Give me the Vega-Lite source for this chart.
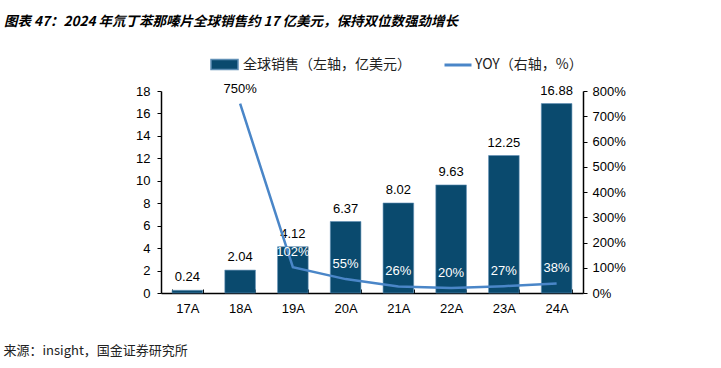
{
  "$schema": "https://vega.github.io/schema/vega-lite/v6.json",
  "width": 422,
  "height": 202,
  "autosize": "none",
  "padding": {"left": 161, "top": 91, "right": 138, "bottom": 75},
  "background": "white",
  "config": {
    "view": {"stroke": null},
    "font": "Liberation Sans",
    "axis": {"labelFont": "Liberation Sans", "labelFontSize": 13, "labelColor": "#000", "domainColor": "#000", "tickColor": "#000", "grid": false, "labelOverlap": false}
  },
  "title": {
    "text": "图表 47：2024 年氘丁苯那嗪片全球销售约 17 亿美元，保持双位数强劲增长",
    "anchor": "start",
    "frame": "group",
    "dx": -157,
    "offset": 22,
    "font": "Noto Sans CJK SC",
    "fontSize": 13.5,
    "fontWeight": "bold",
    "fontStyle": "italic",
    "color": "#000"
  },
  "data": {
    "values": [
      {"year": "17A", "sales": 0.24, "yoy": null},
      {"year": "18A", "sales": 2.04, "yoy": 750},
      {"year": "19A", "sales": 4.12, "yoy": 102},
      {"year": "20A", "sales": 6.37, "yoy": 55},
      {"year": "21A", "sales": 8.02, "yoy": 26},
      {"year": "22A", "sales": 9.63, "yoy": 20},
      {"year": "23A", "sales": 12.25, "yoy": 27},
      {"year": "24A", "sales": 16.88, "yoy": 38}
    ]
  },
  "encoding": {
    "x": {
      "field": "year",
      "type": "nominal",
      "sort": null,
      "scale": {"paddingInner": 0.42, "paddingOuter": 0.21},
      "axis": {
        "labelAngle": 0,
        "labelPadding": 13,
        "tickBand": "extent",
        "tickSize": -4,
        "domainWidth": 1.5,
        "title": "来源：insight，国金证券研究所",
        "titleFont": "Noto Sans CJK SC",
        "titleFontSize": 13,
        "titleFontWeight": "normal",
        "titleColor": "#222",
        "titleAnchor": "start",
        "titleAlign": "left",
        "titleBaseline": "middle",
        "titleX": -158,
        "titleY": 57
      }
    }
  },
  "layer": [
    {
      "encoding": {
        "y": {
          "field": "sales",
          "type": "quantitative",
          "scale": {"domain": [0, 18]},
          "axis": {"values": [0, 2, 4, 6, 8, 10, 12, 14, 16, 18], "title": null, "tickSize": 4, "labelPadding": 7, "domainWidth": 1.5}
        }
      },
      "layer": [
        {
          "mark": {"type": "bar", "stroke": "#5f8fb5", "strokeWidth": 0.6},
          "encoding": {
            "fill": {
              "datum": "全球销售（左轴，亿美元）",
              "type": "nominal",
              "scale": {"range": ["#0a4a6e"]},
              "legend": {
                "orient": "none",
                "legendX": 49,
                "legendY": -41,
                "title": null,
                "symbolType": "M-1,-0.37H1V0.37H-1Z",
                "symbolSize": 729,
                "labelFont": "Noto Sans CJK SC",
                "labelFontSize": 14,
                "labelColor": "#222",
                "labelOffset": 4,
                "labelLimit": 400
              }
            }
          }
        },
        {
          "mark": {"type": "text", "baseline": "bottom", "dy": -6, "fontSize": 13, "color": "#000"},
          "encoding": {
            "text": {"field": "sales", "type": "quantitative", "format": ".2f"}
          }
        }
      ]
    },
    {
      "encoding": {
        "y": {
          "field": "yoy",
          "type": "quantitative",
          "scale": {"domain": [0, 800]},
          "axis": {"orient": "right", "values": [0, 100, 200, 300, 400, 500, 600, 700, 800], "labelExpr": "datum.value + '%'", "title": null, "tickSize": 4, "labelPadding": 5, "domainWidth": 1.5}
        }
      },
      "layer": [
        {
          "mark": {"type": "line", "strokeWidth": 2.5, "interpolate": "linear"},
          "encoding": {
            "stroke": {
              "datum": "YOY（右轴，%）",
              "type": "nominal",
              "scale": {"range": ["#4a86c8"]},
              "legend": {
                "orient": "none",
                "legendX": 282,
                "legendY": -41,
                "title": null,
                "symbolType": "stroke",
                "symbolSize": 729,
                "symbolStrokeWidth": 3,
                "labelFont": "Noto Sans CJK SC",
                "labelFontSize": 14,
                "labelColor": "#222",
                "labelOffset": 2,
                "labelLimit": 400
              }
            }
          }
        },
        {
          "transform": [{"filter": "datum.yoy != null"}, {"calculate": "datum.yoy + '%'", "as": "yoyLabel"}],
          "mark": {"type": "text", "baseline": "bottom", "dy": -8, "fontSize": 13},
          "encoding": {
            "text": {"field": "yoyLabel", "type": "nominal"},
            "color": {
              "condition": {"test": "datum.yoy > 500", "value": "#000"},
              "value": "#ffffff"
            }
          }
        }
      ]
    }
  ],
  "resolve": {"scale": {"y": "independent"}}
}
